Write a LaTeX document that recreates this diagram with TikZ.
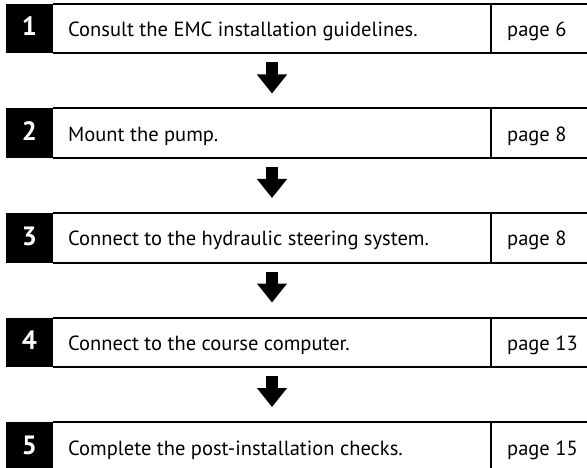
\documentclass[tikz,border=0pt]{standalone}
\usepackage{fontspec}
\setmainfont{PT Sans}
\usetikzlibrary{arrows.meta}
\tikzset{
  x=1pt, y=-1pt,
  cell/.style={anchor=north west, inner sep=0pt, outer sep=0pt, minimum height=49.5pt},
  numbox/.style={cell, fill=black, minimum width=47pt},
  numtext/.style={anchor=base, inner sep=0pt, text=white, font=\fontsize{26.5}{26.5}\selectfont\bfseries},
  txtbox/.style={cell, minimum width=438pt},
  pgbox/.style={cell, minimum width=96pt},
  label/.style={anchor=base west, inner sep=0pt, font=\fontsize{20.5}{20.5}\selectfont},
  rule/.style={line width=2pt},
  sep/.style={line width=1.5pt},
  flow/.style={line width=12pt, -{Triangle[length=19pt,width=29pt]}, shorten <=9pt, shorten >=15pt}
}
\begin{document}
\begin{tikzpicture}
\useasboundingbox (0,0) rectangle (587,468);
\clip (0,0) rectangle (587,468);
\foreach \i/\txt/\pg in {1/Consult the EMC installation guidelines./page 6,
                         2/Mount the pump./page 8,
                         3/Connect to the hydraulic steering system./page 8,
                         4/Connect to the course computer./page 13,
                         5/Complete the post-installation checks./page 15}{
  \pgfmathsetmacro\top{4+104.5*(\i-1)}
  \node[numbox] (n\i) at (6,\top) {};
  \node[numtext] (d\i) at (29.5,\top+32) {\i};
  \node[txtbox] (t\i) at (53,\top) {};
  \node[pgbox] (p\i) at (491,\top) {};
  \node[label] (l\i) at (68,\top+33) {\txt};
  \node[label] (g\i) at (507,\top+33) {\pg};
  \draw[rule] (t\i.north west) -- (p\i.north east);
  \draw[rule] (t\i.south west) -- (p\i.south east);
  \draw[sep] (p\i.north west) -- (p\i.south west);
}
\foreach \a/\b in {1/2,2/3,3/4,4/5}{
  \draw[flow] (t\a.south) -- (t\b.north);
}
\end{tikzpicture}
\end{document}
